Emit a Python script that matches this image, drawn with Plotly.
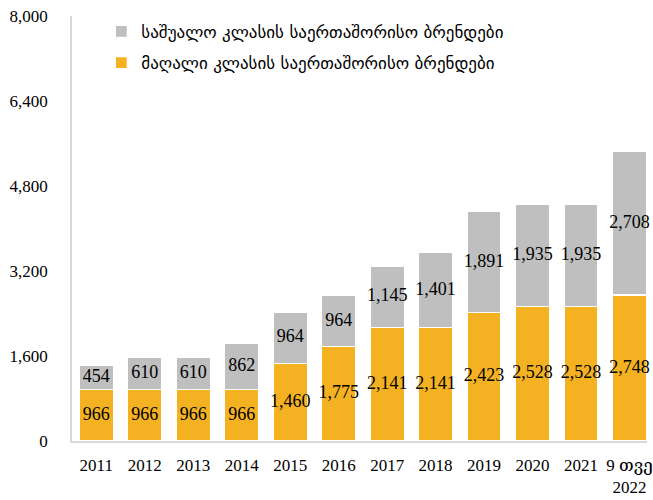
import plotly.graph_objects as go

categories = ["2011", "2012", "2013", "2014", "2015", "2016", "2017", "2018", "2019", "2020", "2021", "9 თვე<br>2022"]
high_class = [966, 966, 966, 966, 1460, 1775, 2141, 2141, 2423, 2528, 2528, 2748]
mid_class = [454, 610, 610, 862, 964, 964, 1145, 1401, 1891, 1935, 1935, 2708]
high_name = "მაღალი კლასის საერთაშორისო ბრენდები"
mid_name = "საშუალო კლასის საერთაშორისო ბრენდები"
y_ticks = [0, 1600, 3200, 4800, 6400, 8000]

ORANGE = "#F4B223"
GRAY = "#BFBFBF"
NUMFONT = "Liberation Serif, DejaVu Serif, serif"

fig = go.Figure()
fig.add_trace(go.Bar(x=categories, y=high_class, name=high_name, legendgroup="a", legendrank=2,
                     marker=dict(color=ORANGE, line=dict(color="white", width=1.2)),
                     hoverinfo="skip"))
fig.add_trace(go.Bar(x=categories, y=mid_class, name=mid_name, legendgroup="b", legendrank=1,
                     marker=dict(color=GRAY, line=dict(color="white", width=1.2)),
                     hoverinfo="skip"))

# labels centered in each segment
fig.add_trace(go.Scatter(x=categories, y=[v / 2 for v in high_class],
                         text=[f"{v:,}" for v in high_class], mode="text",
                         textfont=dict(family=NUMFONT, size=18, color="black"),
                         showlegend=False, cliponaxis=False, hoverinfo="skip"))
fig.add_trace(go.Scatter(x=categories, y=[h + m / 2 for h, m in zip(high_class, mid_class)],
                         text=[f"{v:,}" for v in mid_class], mode="text",
                         textfont=dict(family=NUMFONT, size=18, color="black"),
                         showlegend=False, cliponaxis=False, hoverinfo="skip"))

fig.update_layout(
    width=653, height=500,
    barmode="stack", bargap=0.3,
    margin=dict(l=72, r=0, t=16, b=59),
    plot_bgcolor="white", paper_bgcolor="white",
    font=dict(family=NUMFONT, size=17, color="black"),
    legend=dict(x=0.051, y=1.005, xanchor="left", yanchor="top",
                traceorder="grouped", tracegroupgap=6,
                bgcolor="rgba(0,0,0,0)",
                font=dict(family="DejaVu Sans", size=17, color="black"),
                itemwidth=30),
    xaxis=dict(range=[-0.5, 11.36], showline=True, linecolor="#D9D9D9", linewidth=1.5,
               ticks="", showgrid=False, tickfont=dict(family=NUMFONT, size=17),
               ticklabelstandoff=8, fixedrange=True),
    yaxis=dict(range=[0, 8000], tickvals=y_ticks, tickformat=",d",
               showline=True, linecolor="#D9D9D9", linewidth=1.5,
               ticks="", showgrid=False, zeroline=False,
               tickfont=dict(family=NUMFONT, size=17), ticklabelstandoff=19,
               fixedrange=True),
)

fig.write_html("out.html", config={"displayModeBar": False},
               post_script="document.body.style.margin='0';")
